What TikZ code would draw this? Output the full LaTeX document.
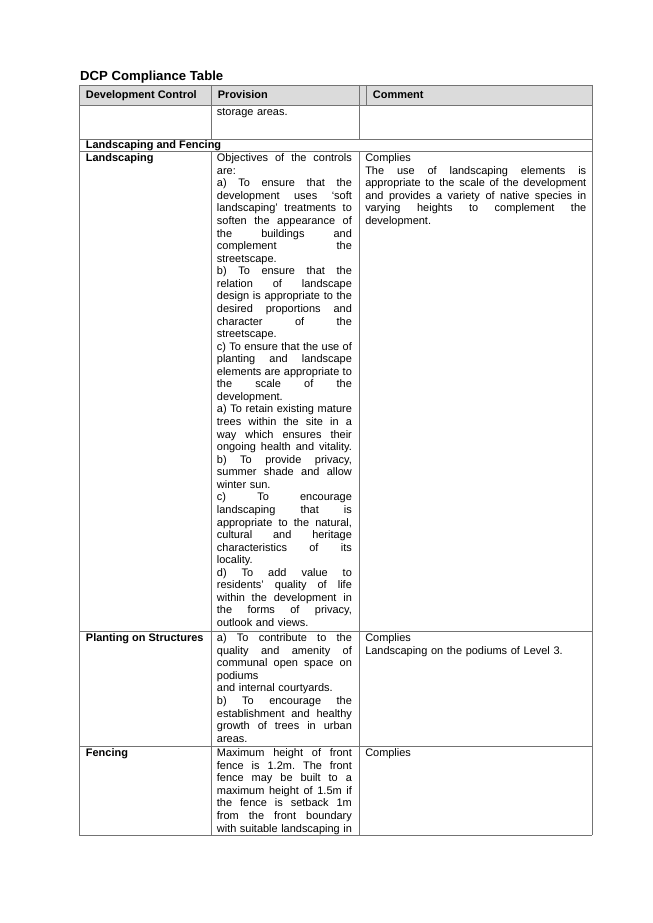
\documentclass[tikz,border=0pt]{standalone}
\usepackage{fontspec}
\setmainfont{Liberation Sans}
\frenchspacing
\newcommand{\pj}[1]{\leavevmode\hbox to 123.1pt{\spaceskip=\fontdimen2\font plus 1fil\relax #1}}
\newcommand{\cj}[1]{\leavevmode\hbox to 201.6pt{\spaceskip=\fontdimen2\font plus 1fil\relax #1}}
\begin{document}
\begin{tikzpicture}[x=1pt,y=-1pt,
  rule/.style={draw=black!55,line width=0.7pt},
  hdr/.style={fill=black!14},
  cell/.style={anchor=base west,inner sep=0pt,align=left,font=\fontsize{10}{11.46}\selectfont\frenchspacing},
  pcell/.style={cell,text width=123.1pt},
  ccell/.style={cell,text width=201.6pt},
  bcell/.style={anchor=base west,inner sep=0pt,font=\fontsize{10}{11.46}\selectfont\bfseries},
  ttl/.style={anchor=base west,inner sep=0pt,font=\fontsize{12}{14}\selectfont\bfseries}]
\useasboundingbox[fill=white] (0,0) rectangle (595.3,842);
% header fill
\fill[hdr] (72.1,77.5) rectangle (540,95.8);
% horizontal rules
\foreach \yy in {77.5,95.8,126.8,138.4,576.3,681.2,761.7}
  \draw[rule] (72.1,\yy) -- (540,\yy);
% vertical rules
\draw[rule] (72.1,77.5) -- (72.1,761.7);
\draw[rule] (540,77.5) -- (540,761.7);
\draw[rule] (193.1,77.5) -- (193.1,126.8);
\draw[rule] (193.1,138.4) -- (193.1,761.7);
\draw[rule] (327.5,77.5) -- (327.5,126.8);
\draw[rule] (327.5,138.4) -- (327.5,761.7);
\draw[rule] (334.5,77.5) -- (334.5,95.8);
% title
\node[ttl] (title) at (73.0,73.6) {DCP Compliance Table};
% header
\node[bcell] (h1) at (78.2,89.7) {Development Control};
\node[bcell] (h2) at (198.6,89.7) {Provision};
\node[bcell] (h3) at (340.0,89.7) {Comment};
% storage row
\node[pcell] (s2) at (197.7,105.0) {storage areas.};
% section row
\node[bcell] (lf) at (78.2,135.3) {Landscaping and Fencing};
% landscaping row
\node[bcell] (l1) at (78.2,147.5) {Landscaping};
\node[pcell] (l2) at (197.7,147.5) {%
\pj{Objectives of the controls}\\
are:\\
\pj{a) To ensure that the}\\
\pj{development uses ‘soft}\\
\pj{landscaping’ treatments to}\\
\pj{soften the appearance of}\\
\pj{the buildings and}\\
\pj{complement the}\\
streetscape.\\
\pj{b) To ensure that the}\\
\pj{relation of landscape}\\
\pj{design is appropriate to the}\\
\pj{desired proportions and}\\
\pj{character of the}\\
streetscape.\\
\pj{c) To ensure that the use of}\\
\pj{planting and landscape}\\
\pj{elements are appropriate to}\\
\pj{the scale of the}\\
development.\\
\pj{a) To retain existing mature}\\
\pj{trees within the site in a}\\
\pj{way which ensures their}\\
\pj{ongoing health and vitality.}\\
\pj{b) To provide privacy,}\\
\pj{summer shade and allow}\\
winter sun.\\
\pj{c) To encourage}\\
\pj{landscaping that is}\\
\pj{appropriate to the natural,}\\
\pj{cultural and heritage}\\
\pj{characteristics of its}\\
locality.\\
\pj{d) To add value to}\\
\pj{residents’ quality of life}\\
\pj{within the development in}\\
\pj{the forms of privacy,}\\
outlook and views.};
\node[ccell] (l3) at (333.0,147.5) {%
Complies\\
\cj{The use of landscaping elements is}\\
\cj{appropriate to the scale of the development}\\
\cj{and provides a variety of native species in}\\
\cj{varying heights to complement the}\\
development.};
% planting row
\node[bcell] (p1) at (78.2,585.4) {Planting on Structures};
\node[pcell] (p2) at (197.7,585.4) {%
\pj{a) To contribute to the}\\
\pj{quality and amenity of}\\
\pj{communal open space on}\\
podiums\\
and internal courtyards.\\
\pj{b) To encourage the}\\
\pj{establishment and healthy}\\
\pj{growth of trees in urban}\\
areas.};
\node[ccell] (p3) at (333.0,585.4) {%
Complies\\
Landscaping on the podiums of Level 3.};
% fencing row
\node[bcell] (f1) at (78.2,690.3) {Fencing};
\node[pcell] (f2) at (197.7,690.3) {%
\pj{Maximum height of front}\\
\pj{fence is 1.2m. The front}\\
\pj{fence may be built to a}\\
\pj{maximum height of 1.5m if}\\
\pj{the fence is setback 1m}\\
\pj{from the front boundary}\\
\pj{with suitable landscaping in}};
\node[ccell] (f3) at (333.0,690.3) {Complies};
\end{tikzpicture}
\end{document}
